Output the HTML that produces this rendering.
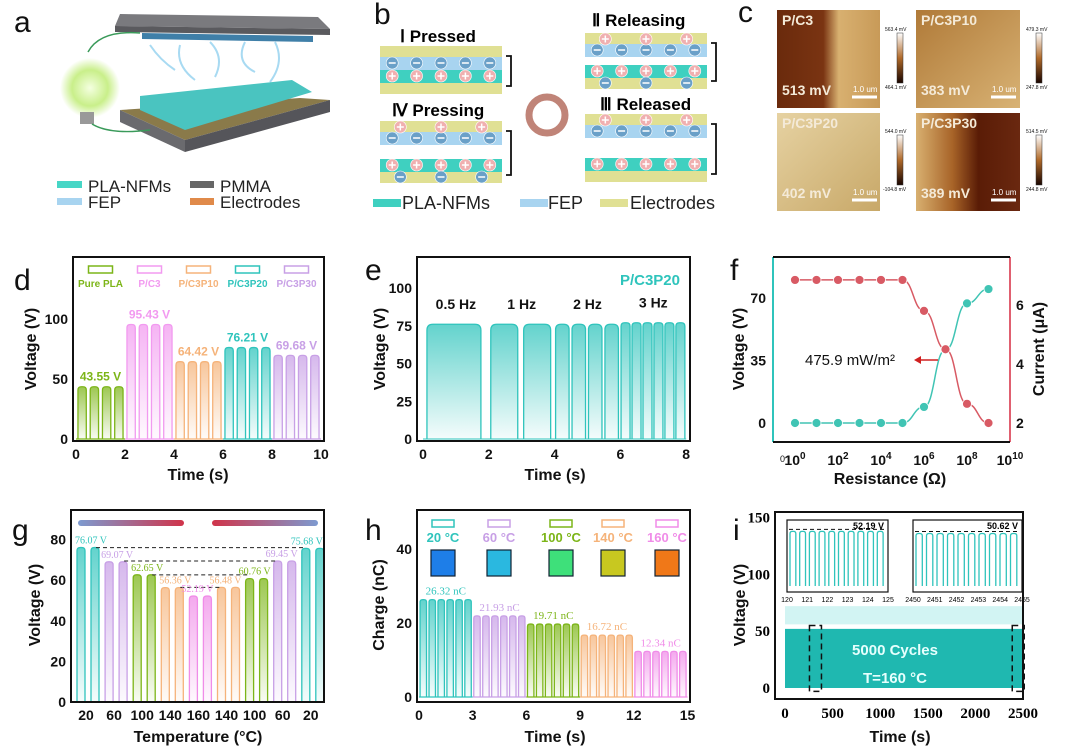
<!DOCTYPE html>
<html><head><meta charset="utf-8">
<style>
html,body{margin:0;padding:0;background:#fff}
svg{display:block;font-family:"Liberation Sans",Arial,sans-serif}
.tk{font-size:14px;font-weight:bold;fill:#111}
.at{font-size:16px;font-weight:bold;fill:#111}
.pl{font-size:30px;fill:#111}
</style></head><body>
<svg id="fig" width="1080" height="752" viewBox="0 0 1080 752" xmlns="http://www.w3.org/2000/svg">
<defs>
<linearGradient id="thermL" x1="0" x2="1"><stop offset="0" stop-color="#7d9ad0"/><stop offset="1" stop-color="#d0344a"/></linearGradient>
<linearGradient id="thermR" x1="0" x2="1"><stop offset="0" stop-color="#d0344a"/><stop offset="1" stop-color="#7d9ad0"/></linearGradient>
<linearGradient id="afm1" x1="0" y1="0" x2="1" y2="0"><stop offset="0" stop-color="#6a2a0c"/><stop offset="0.45" stop-color="#7a3412"/><stop offset="0.6" stop-color="#d8b070"/><stop offset="1" stop-color="#c89a58"/></linearGradient>
<linearGradient id="afm2" x1="0" y1="0" x2="1" y2="1"><stop offset="0" stop-color="#b07a38"/><stop offset="1" stop-color="#d8b274"/></linearGradient>
<linearGradient id="afm3" x1="0" y1="0" x2="1" y2="1"><stop offset="0" stop-color="#e6d2a2"/><stop offset="1" stop-color="#c8a868"/></linearGradient>
<linearGradient id="afm4" x1="0" y1="0" x2="1" y2="0"><stop offset="0" stop-color="#d8b070"/><stop offset="0.35" stop-color="#a86428"/><stop offset="0.6" stop-color="#5a1c06"/><stop offset="1" stop-color="#6a2810"/></linearGradient>
<linearGradient id="cbar" x1="0" y1="0" x2="0" y2="1"><stop offset="0" stop-color="#fff"/><stop offset="0.5" stop-color="#b06a2a"/><stop offset="1" stop-color="#1a0500"/></linearGradient>
<radialGradient id="bulb"><stop offset="0" stop-color="#f4ffe0"/><stop offset="0.6" stop-color="#c9ef8a"/><stop offset="1" stop-color="#c9ef8a" stop-opacity="0"/></radialGradient>
</defs>

<!-- Panel a -->
<g>
<text x="14" y="32" class="pl">a</text>
<polygon points="120,14 318,17 330,29 115,26" fill="#7a7a7e"/>
<polygon points="115,26 330,29 330,35 115,32" fill="#5a5a5e"/>
<polygon points="142,33 313,36 313,42 142,39" fill="#3f7fa8"/>
<path d="M150,45 q10,15 25,25 M180,45 q-5,20 15,35 M210,42 q15,15 5,35 M245,42 q-10,20 10,30 M275,42 q10,20 -5,40" stroke="#a8daf2" stroke-width="2" fill="none"/>
<polygon points="120,110 300,98 330,100 185,140" fill="#8a7a4a"/>
<polygon points="140,96 292,80 312,92 185,130 140,110" fill="#4ac4c0"/>
<polygon points="120,110 185,140 185,152 120,122" fill="#6a6a6e"/>
<polygon points="185,140 330,100 330,112 185,152" fill="#55555a"/>
<circle cx="90" cy="88" r="30" fill="url(#bulb)"/>
<rect x="80" y="112" width="14" height="12" fill="#999"/>
<path d="M88,52 Q100,30 140,33" stroke="#3a9a5a" stroke-width="1.5" fill="none"/>
<path d="M92,124 Q110,135 150,130" stroke="#3a9a5a" stroke-width="1.5" fill="none"/>
<g font-size="17" fill="#222">
<rect x="57" y="181" width="25" height="7" fill="#47d6c6"/><text x="88" y="192">PLA-NFMs</text>
<rect x="190" y="181" width="24" height="7" fill="#666"/><text x="220" y="192">PMMA</text>
<rect x="57" y="198" width="25" height="7" fill="#a8d4f0"/><text x="88" y="208">FEP</text>
<rect x="190" y="198" width="24" height="7" fill="#e08a4a"/><text x="220" y="208">Electrodes</text>
</g>
</g>

<!-- Panel b -->
<g id="pb">
<text x="374" y="24" class="pl">b</text>
<text x="400" y="42" font-size="17" font-weight="bold">Ⅰ Pressed</text>
<text x="592" y="26" font-size="17" font-weight="bold">Ⅱ Releasing</text>
<text x="392" y="116" font-size="17" font-weight="bold">Ⅳ Pressing</text>
<text x="600" y="110" font-size="17" font-weight="bold">Ⅲ Released</text>
<circle cx="547" cy="115" r="18" fill="none" stroke="#c08478" stroke-width="7"/>
<g font-size="18" fill="#222">
<rect x="373" y="199" width="28" height="8" fill="#3fd0c0"/><text x="402" y="209">PLA-NFMs</text>
<rect x="520" y="199" width="28" height="8" fill="#a8d4f0"/><text x="548" y="209">FEP</text>
<rect x="600" y="199" width="28" height="8" fill="#e0e094"/><text x="630" y="209">Electrodes</text>
</g>
</g>

<!-- Panel c -->
<g>
<text x="738" y="22" class="pl">c</text>
<rect x="777" y="10" width="103" height="98" fill="url(#afm1)"/>
<rect x="916" y="10" width="104" height="98" fill="url(#afm2)"/>
<rect x="777" y="113" width="103" height="98" fill="url(#afm3)"/>
<rect x="916" y="113" width="104" height="98" fill="url(#afm4)"/>
<rect x="897" y="33" width="6" height="50" fill="url(#cbar)" stroke="#333" stroke-width="0.5"/>
<rect x="1036" y="33" width="6" height="50" fill="url(#cbar)" stroke="#333" stroke-width="0.5"/>
<rect x="897" y="135" width="6" height="50" fill="url(#cbar)" stroke="#333" stroke-width="0.5"/>
<rect x="1036" y="135" width="6" height="50" fill="url(#cbar)" stroke="#333" stroke-width="0.5"/>
<g font-size="5" fill="#111">
<text x="885" y="31">563.4 mV</text><text x="885" y="89">464.1 mV</text>
<text x="1026" y="31">479.3 mV</text><text x="1026" y="89">247.8 mV</text>
<text x="885" y="133">544.0 mV</text><text x="883" y="191">-104.8 mV</text>
<text x="1026" y="133">514.5 mV</text><text x="1026" y="191">244.8 mV</text>
</g>
<g font-size="14" font-weight="bold" fill="#f4ead8">
<text x="782" y="25">P/C3</text><text x="921" y="25">P/C3P10</text>
<text x="782" y="128">P/C3P20</text><text x="921" y="128">P/C3P30</text>
<text x="782" y="95">513 mV</text><text x="921" y="95">383 mV</text>
<text x="782" y="198">402 mV</text><text x="921" y="198">389 mV</text>
</g>
<g stroke="#fff" stroke-width="3">
<line x1="852" y1="97" x2="877" y2="97"/><line x1="991" y1="97" x2="1016" y2="97"/>
<line x1="852" y1="200" x2="877" y2="200"/><line x1="991" y1="200" x2="1016" y2="200"/>
</g>
<g font-size="8" fill="#fff"><text x="853" y="92">1.0 um</text><text x="992" y="92">1.0 um</text><text x="853" y="195">1.0 um</text><text x="992" y="195">1.0 um</text></g>
</g>

<g id="charts"></g>
</svg>
<script>
// ---- data ----
const dLabels=["Pure PLA","P/C3","P/C3P10","P/C3P20","P/C3P30"];
const dValues=[43.55,95.43,64.42,76.21,69.68];
const dColors=["#7cb518","#f29af0","#f5b37a","#2fc4bc","#c8a0e6"];
const dXTicks=[0,2,4,6,8,10];
const dYTicks=[0,50,100];
const eFreqs=["0.5 Hz","1 Hz","2 Hz","3 Hz"];
const ePulseCounts=[1,2,4,6];
const eValue=[76,76,76,77];
const eXTicks=[0,2,4,6,8];
const eYTicks=[0,25,50,75,100];
const fLogR=[0,1,2,3,4,5,6,7,8,9];
const fVoltage=[0,0,0,0,0,0,9,41,67,75];
const fCurrent=[6.85,6.85,6.85,6.85,6.85,6.85,5.8,4.5,2.65,2.0];
const fXTicks=[0,2,4,6,8,10];
const fYTicks=[0,35,70];
const fY2Ticks=[2,4,6];
const gTemps=["20","60","100","140","160","140","100","60","20"];
const gValues=[76.07,69.07,62.65,56.36,52.19,56.48,60.76,69.45,75.68];
const gColors=["#2fc4bc","#c8a0e6","#7cb518","#f5b37a","#f08ce8","#f5b37a","#7cb518","#c8a0e6","#2fc4bc"];
const gYTicks=[0,20,40,60,80];
const hTemps=["20 °C","60 °C","100 °C","140 °C","160 °C"];
const hValues=[26.32,21.93,19.71,16.72,12.34];
const hColors=["#2fc4bc","#c8a0e6","#7cb518","#f5b37a","#f08ce8"];
const hSwatch=["#1e7ee8","#2ab8e0","#3ee07a","#c8c820","#f07818"];
const hXTicks=[0,3,6,9,12,15];
const hYTicks=[0,20,40];
const iXTicks=[0,500,1000,1500,2000,2500];
const iYTicks=[0,50,100,150];
const iLevel=[52,50];
const iInsetLabels=["52.19 V","50.62 V"];
const iInsetTicks1=["120","121","122","123","124","125"];
const iInsetTicks2=["2450","2451","2452","2453","2454","2455"];

const NS="http://www.w3.org/2000/svg";
const root=document.getElementById('charts');
let gid=0;
function el(tag,attrs,parent){const e=document.createElementNS(NS,tag);for(const k in attrs)e.setAttribute(k,attrs[k]);(parent||root).appendChild(e);return e;}
function txt(x,y,s,cls,extra,parent){const t=el('text',Object.assign({x:x,y:y,class:cls||''},extra||{}),parent);t.textContent=s;return t;}
function grad(color){const id='g'+(gid++);const lg=el('linearGradient',{id:id,x1:0,y1:0,x2:0,y2:1},document.querySelector('defs'));el('stop',{offset:0,'stop-color':color,'stop-opacity':0.75},lg);el('stop',{offset:1,'stop-color':color,'stop-opacity':0.05},lg);return 'url(#'+id+')';}
function pulse(x0,x1,yb,yt,color,fill,parent){const r=Math.min((x1-x0)/2.5,6);
 const d=`M${x0},${yb} L${x0},${yt+r} Q${x0},${yt} ${x0+r},${yt} L${x1-r},${yt} Q${x1},${yt} ${x1},${yt+r} L${x1},${yb}`;
 const p=el('path',{d:d,fill:fill,stroke:color,'stroke-width':1.3},parent);return p;}
function frame(x,y,w,h,parent){el('rect',{x:x,y:y,width:w,height:h,fill:'none',stroke:'#111','stroke-width':2},parent);}

// ---- panel d ----
(function(){
const g=el('g',{});


const X=t=>76+t*24.5, Y=v=>439-v*1.2;
txt(14,290,'d','pl',{},g);
dValues.forEach((v,i)=>{const f=grad(dColors[i]);
 for(let k=0;k<4;k++){const t0=i*2+k*0.5+0.08;const p=pulse(X(t0),X(t0+0.34),Y(0),Y(v),dColors[i],f,g);
  
  }
 el('line',{x1:X(i*2),x2:X(i*2+2),y1:Y(0),y2:Y(0),stroke:dColors[i],'stroke-width':1.3},g);
 txt(X(i*2+1),Y(v)-6,v.toFixed(2)+' V','',{'font-size':12,'font-weight':'bold',fill:dColors[i],'text-anchor':'middle'},g);
 const lx=X(i*2+1);el('rect',{x:lx-12,y:266,width:24,height:7,fill:'none',stroke:dColors[i],'stroke-width':1.5},g);
 txt(lx,287,dLabels[i],'',{'font-size':10,'font-weight':'bold',fill:dColors[i],'text-anchor':'middle'},g);
});
frame(73,257,251,184,g);
dXTicks.forEach(t=>txt(X(t),459,t,'tk',{'text-anchor':'middle'},g));
dYTicks.forEach(v=>txt(68,Y(v)+5,v,'tk',{'text-anchor':'end'},g));
txt(198,480,'Time (s)','at',{'text-anchor':'middle'},g);
txt(0,0,'Voltage (V)','at',{'text-anchor':'middle',transform:'translate(36,349) rotate(-90)'},g);
})();

// ---- panel e ----
(function(){
const g=el('g',{});


const X=t=>423+t*32.9, Y=v=>439-v*1.51;
txt(365,280,'e','pl',{},g);
const c="#2fc4bc";
eFreqs.forEach((fq,i)=>{const f=grad(c);const n=ePulseCounts[i];const per=2/n;
 for(let k=0;k<n;k++){const t0=i*2+k*per+per*0.06;const p=pulse(X(t0),X(t0+per*0.82),Y(0),Y(eValue[i]),c,f,g);
  
  }
 txt(X(i*2+1),Y(eValue[i])-15,fq,'',{'font-size':14,'font-weight':'bold','text-anchor':'middle',fill:'#111'},g);
});
el('line',{x1:X(0),x2:X(8),y1:Y(0),y2:Y(0),stroke:c,'stroke-width':1},g);
frame(417,257,273,184,g);
txt(680,285,'P/C3P20','',{'font-size':15,'font-weight':'bold',fill:'#2fc4bc','text-anchor':'end'},g);
eXTicks.forEach(t=>txt(X(t),459,t,'tk',{'text-anchor':'middle'},g));
eYTicks.forEach(v=>txt(412,Y(v)+5,v,'tk',{'text-anchor':'end'},g));
txt(555,480,'Time (s)','at',{'text-anchor':'middle'},g);
txt(0,0,'Voltage (V)','at',{'text-anchor':'middle',transform:'translate(385,349) rotate(-90)'},g);
})();

// ---- panel f ----
(function(){
const g=el('g',{});


const X=l=>795+l*21.5, YV=v=>423-v*1.786, YI=i=>423-(i-2)*29.5;
txt(730,280,'f','pl',{},g);
el('line',{x1:773,y1:257,x2:773,y2:442,stroke:'#2fc4bc','stroke-width':2},g);
el('line',{x1:1010,y1:257,x2:1010,y2:442,stroke:'#e06070','stroke-width':2},g);
el('line',{x1:773,y1:257,x2:1010,y2:257,stroke:'#111','stroke-width':2},g);
el('line',{x1:773,y1:442,x2:1010,y2:442,stroke:'#111','stroke-width':2},g);
function smooth(ys,color,name){let d='';fLogR.forEach((l,i)=>{const x=X(l),y=ys(i);
 if(i===0)d+=`M${x},${y}`;else{const px=X(fLogR[i-1]),py=ys(i-1);d+=` C${(px+x)/2},${py} ${(px+x)/2},${y} ${x},${y}`;}});
 const p=el('path',{d:d,fill:'none',stroke:color,'stroke-width':1.5},g);
 fLogR.forEach((l,i)=>{const pt=el('circle',{cx:X(l),cy:ys(i),r:4.5,fill:color,stroke:'#fff','stroke-width':0.8},g);
  });}
smooth(i=>YV(fVoltage[i]),'#40c4b4','voltage');
smooth(i=>YI(fCurrent[i]),'#d85a64','current');
txt(805,365,'475.9 mW/m²','',{'font-size':15,fill:'#111'},g);
el('line',{x1:938,y1:360,x2:918,y2:360,stroke:'#d02020','stroke-width':1.5},g);
el('polygon',{points:'914,360 921,356 921,364',fill:'#d02020'},g);
fXTicks.forEach(t=>{const tt=txt(X(t),465,'10','',{'font-size':14,'font-weight':'bold','text-anchor':'middle',fill:'#111'},g);const s=el('tspan',{dy:-6,'font-size':10},tt);s.textContent=t;});
txt(780,462,'0','',{'font-size':9,fill:'#111'},g);
fYTicks.forEach(v=>txt(766,YV(v)+5,v,'tk',{'text-anchor':'end'},g));
fY2Ticks.forEach(v=>txt(1016,YI(v)+5,v,'tk',{},g));
txt(890,484,'Resistance (Ω)','at',{'text-anchor':'middle'},g);
txt(0,0,'Voltage (V)','at',{'text-anchor':'middle',transform:'translate(744,349) rotate(-90)'},g);
txt(0,0,'Current (μA)','at',{'text-anchor':'middle',transform:'translate(1044,349) rotate(-90)'},g);
})();

// ---- panel g ----
(function(){
const g=el('g',{});


const X=i=>88+i*28.1, Y=v=>702-v*2.03;
txt(12,540,'g','pl',{},g);
el('rect',{x:78,y:520,width:106,height:6,rx:3,fill:'url(#thermL)'},g);
el('rect',{x:212,y:520,width:106,height:6,rx:3,fill:'url(#thermR)'},g);
gValues.forEach((v,i)=>{const f=grad(gColors[i]);const c=X(i);
 [[-11,-3],[3,11]].forEach(o=>{const p=pulse(c+o[0],c+o[1],Y(0),Y(v),gColors[i],f,g);
  });
});
for(let i=0;i<4;i++){const v=Math.max(gValues[i],gValues[8-i]);el('line',{x1:X(i)+8,x2:X(8-i)-8,y1:Y(v),y2:Y(v),stroke:'#222','stroke-width':1,'stroke-dasharray':'4,3'},g);}
const dx=[3,1,3,3,-3,-3,-2,-3,-6];
gValues.forEach((v,i)=>txt(X(i)+dx[i],Y(v)-4,v.toFixed(2)+' V','',{'font-size':10,fill:gColors[i],'text-anchor':'middle','font-family':'Liberation Serif'},g));
frame(71,510,253,192,g);
gTemps.forEach((t,i)=>txt(X(i)-2,720,t,'tk',{'text-anchor':'middle','font-size':15},g));
gYTicks.forEach(v=>txt(66,Y(v)+5,v,'tk',{'text-anchor':'end'},g));
txt(198,742,'Temperature (°C)','at',{'text-anchor':'middle','font-size':17},g);
txt(0,0,'Voltage (V)','at',{'text-anchor':'middle',transform:'translate(40,605) rotate(-90)'},g);
})();

// ---- panel h ----
(function(){
const g=el('g',{});


const X=t=>419+t*17.9, Y=q=>697-q*3.7;
txt(365,540,'h','pl',{},g);
const lx=[443,499,561,613,667];
hValues.forEach((v,i)=>{const f=grad(hColors[i]);
 for(let k=0;k<6;k++){const t0=i*3+k*0.5+0.06;const p=pulse(X(t0),X(t0+0.36),Y(0),Y(v),hColors[i],f,g);
  }
 el('line',{x1:X(i*3),x2:X(i*3+3),y1:Y(0),y2:Y(0),stroke:hColors[i],'stroke-width':1.3},g);
 txt(X(i*3+1.5),Y(v)-5,v.toFixed(2)+' nC','',{'font-size':11,fill:hColors[i],'text-anchor':'middle','font-family':'Liberation Serif'},g);
 el('rect',{x:lx[i]-11,y:520,width:22,height:7,fill:'none',stroke:hColors[i],'stroke-width':1.5},g);
 txt(lx[i],542,hTemps[i],'',{'font-size':13,'font-weight':'bold',fill:hColors[i],'text-anchor':'middle'},g);
 el('rect',{x:lx[i]-12,y:550,width:24,height:26,fill:hSwatch[i],stroke:'#123','stroke-width':1.2},g);
});
frame(417,510,273,192,g);
hXTicks.forEach(t=>txt(X(t),720,t,'tk',{'text-anchor':'middle','font-size':15},g));
hYTicks.forEach(v=>txt(412,Y(v)+5,v,'tk',{'text-anchor':'end','font-size':15},g));
txt(555,742,'Time (s)','at',{'text-anchor':'middle','font-size':17},g);
txt(0,0,'Charge (nC)','at',{'text-anchor':'middle',transform:'translate(384,605) rotate(-90)'},g);
})();

// ---- panel i ----
(function(){
const g=el('g',{});


const X=t=>785+t*0.0952, Y=v=>688-v*1.137;
txt(733,540,'i','pl',{},g);
const band=el('rect',{x:X(0),y:Y(iLevel[0]),width:X(2500)-X(0),height:Y(0)-Y(iLevel[0]),fill:'#1fb8b0'},g);


el('polygon',{points:`${X(0)},${Y(56)} ${X(0)},${Y(72)} ${X(2500)},${Y(72)} ${X(2500)},${Y(56)}`,fill:'#bff0ee',opacity:0.7},g);
el('rect',{x:X(320)-6,y:Y(55),width:12,height:Y(-3)-Y(55),fill:'none',stroke:'#111','stroke-dasharray':'6,4','stroke-width':1.5},g);
el('rect',{x:X(2450)-6,y:Y(55),width:12,height:Y(-3)-Y(55),fill:'none',stroke:'#111','stroke-dasharray':'6,4','stroke-width':1.5},g);
txt(895,655,'5000 Cycles','',{'font-size':15,'font-weight':'bold',fill:'#e6fffd','text-anchor':'middle'},g);
txt(895,683,'T=160 °C','',{'font-size':15,'font-weight':'bold',fill:'#e6fffd','text-anchor':'middle'},g);
[[787,101,iInsetTicks1],[913,109,iInsetTicks2]].forEach(([ix,iw,ticks],n)=>{
 const iy=520,ih=72;const yb=iy+ih-6, yt=v=>yb-v*1.05;
 el('rect',{x:ix,y:iy,width:iw,height:ih,fill:'#fff',stroke:'#111','stroke-width':1.2},g);
 const per=(iw-4)/10;
 for(let k=0;k<10;k++){const p=pulse(ix+3+k*per,ix+3+k*per+per*0.6,yb,yt(iLevel[n]),'#2fc4bc','none',g);
  }
 el('line',{x1:ix+2,x2:ix+iw-2,y1:yt(iLevel[n])-2,y2:yt(iLevel[n])-2,stroke:'#111','stroke-dasharray':'4,3'},g);
 txt(ix+iw-4,iy+9,iInsetLabels[n],'',{'font-size':9,'font-weight':'bold','text-anchor':'end'},g);
 ticks.forEach((t,j)=>txt(ix+j*iw/5,iy+ih+10,t,'',{'font-size':7,'text-anchor':'middle'},g));
});
frame(775,512,248,187,g);
iXTicks.forEach(t=>txt(X(t),718,t,'',{'font-size':15,'font-weight':'bold','text-anchor':'middle','font-family':'Liberation Serif'},g));
iYTicks.forEach(v=>txt(770,Y(v)+5,v,'',{'font-size':15,'font-weight':'bold','text-anchor':'end','font-family':'Liberation Serif'},g));
txt(900,742,'Time (s)','at',{'text-anchor':'middle','font-size':17},g);
txt(0,0,'Voltage (V)','at',{'text-anchor':'middle',transform:'translate(745,605) rotate(-90)'},g);
})();

// ---- panel b schematic stacks ----
(function(){
const g=document.getElementById('pb');
function layer(x,y,w,h,c){el('rect',{x:x,y:y,width:w,height:h,fill:c},g);}
function ions(x,y,w,n,pos){for(let k=0;k<n;k++){const cx=x+w*(k+0.5)/n;el('circle',{cx:cx,cy:y,r:6,fill:pos?'#f0b0b0':'#6aa0c8',stroke:'#fff','stroke-width':0.6},g);
 el('line',{x1:cx-3.5,x2:cx+3.5,y1:y,y2:y,stroke:'#fff','stroke-width':1.5},g);if(pos)el('line',{x1:cx,x2:cx,y1:y-3.5,y2:y+3.5,stroke:'#fff','stroke-width':1.5},g);}}
function stack(x,y,gap,topPos,botNeg){const w=122;
 layer(x,y,w,11,'#e0e094');layer(x,y+11,w,13,'#a8d4f0');
 layer(x,y+24+gap,w,13,'#3fd0c0');layer(x,y+37+gap,w,11,'#e0e094');
 ions(x,y+17,w,5,false);ions(x,y+30+gap,w,5,true);
 if(topPos)ions(x,y+6,w,3,true);if(botNeg)ions(x,y+42+gap,w,3,false);
 el('path',{d:`M${x+w+4},${y+10} h5 v${30+gap} h-5`,fill:'none',stroke:'#111','stroke-width':1.8},g);}
stack(380,46,0,false,false);
stack(585,33,8,true,true);
stack(380,121,14,true,true);
stack(585,114,20,true,false);
})();
</script>
</body></html>
